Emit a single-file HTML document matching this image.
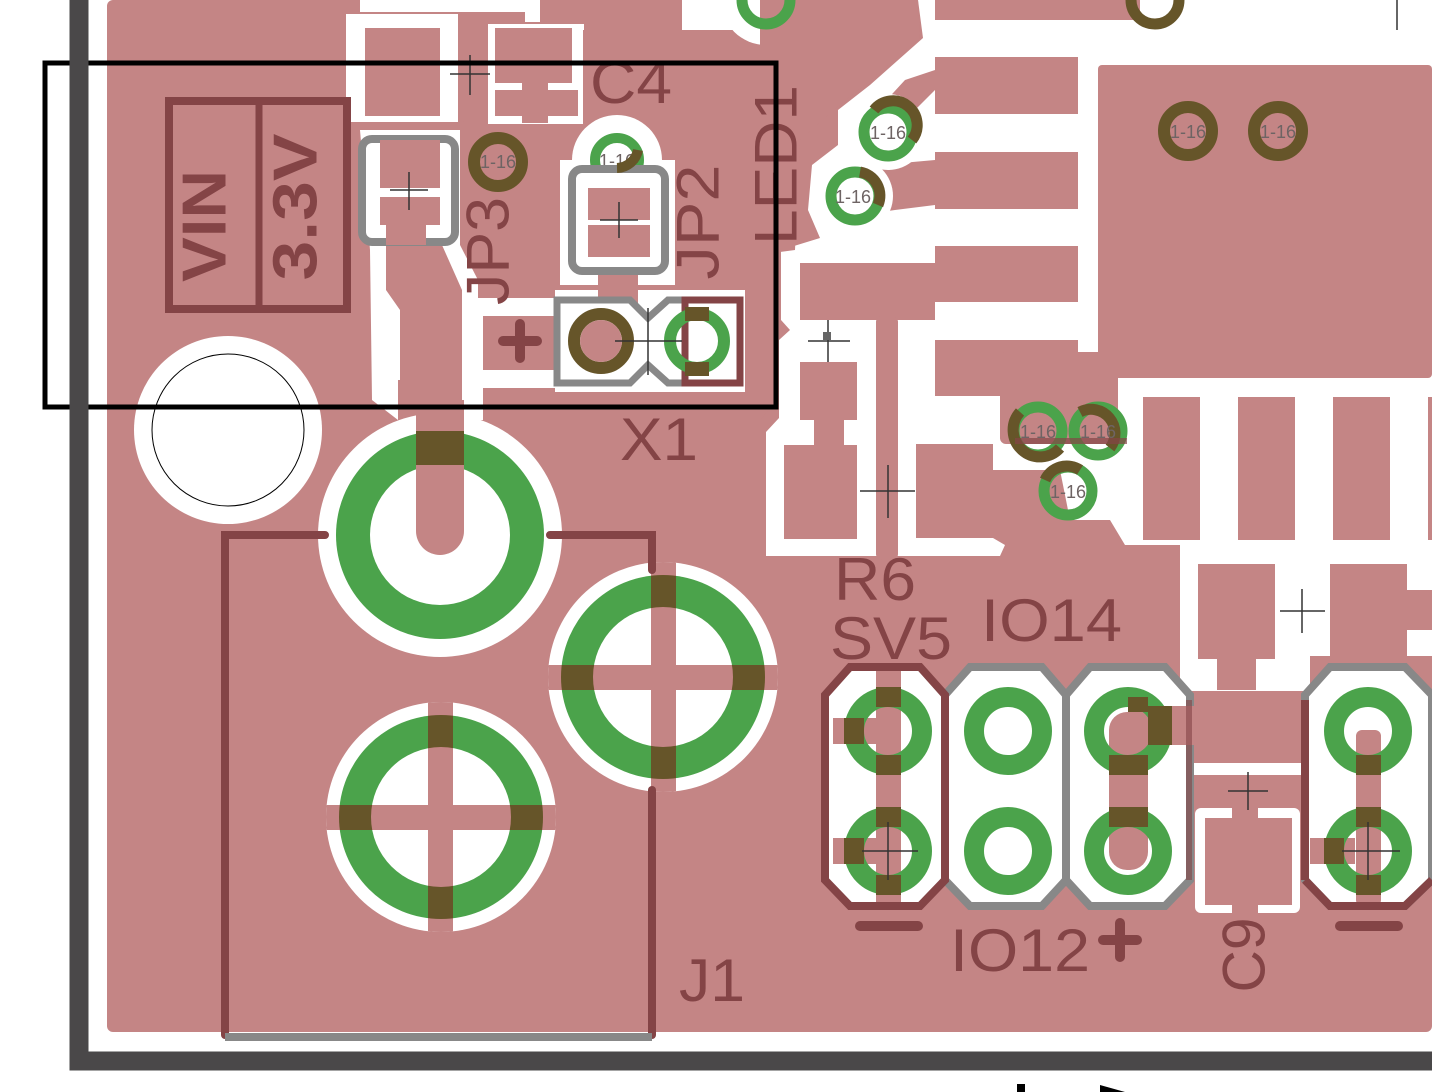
<!DOCTYPE html>
<html><head><meta charset="utf-8"><style>
html,body{margin:0;padding:0;background:#fff;}
svg{display:block;}
text{font-family:"Liberation Sans",sans-serif;}
</style></head><body>
<svg width="1432" height="1092" viewBox="0 0 1432 1092" xmlns="http://www.w3.org/2000/svg">
<defs>
<clipPath id="o2"><circle cx="663" cy="677" r="102"/></clipPath>
<clipPath id="i2"><circle cx="663" cy="677" r="70"/></clipPath>
<clipPath id="c2"><circle cx="663" cy="677" r="115"/></clipPath>
<clipPath id="o3"><circle cx="441" cy="817" r="102"/></clipPath>
<clipPath id="i3"><circle cx="441" cy="817" r="70"/></clipPath>
<clipPath id="c3"><circle cx="441" cy="817" r="115"/></clipPath>
<clipPath id="o1"><circle cx="440" cy="535" r="104"/></clipPath>
</defs>
<rect width="1432" height="1092" fill="#fff"/>
<!-- copper pour -->
<rect x="107" y="0" width="1325" height="1032" rx="6" fill="#c48585"/>

<!-- top-left white clearances -->
<rect x="346" y="14" width="112" height="108" fill="#fff"/>
<rect x="365" y="28" width="75" height="88" fill="#c48585"/>
<rect x="458" y="12" width="30" height="110" rx="6" fill="#c48585"/>
<rect x="488" y="24" width="96" height="100" fill="#fff"/>
<rect x="495" y="28" width="77" height="55" fill="#c48585"/>
<rect x="495" y="90" width="27" height="26" fill="#c48585"/>
<rect x="548" y="90" width="30" height="26" fill="#c48585"/>
<rect x="522" y="83" width="26" height="40" fill="#c48585"/>
<rect x="583" y="30" width="340" height="200" fill="#c48585"/>
<rect x="360" y="0" width="165" height="12" fill="#fff"/>
<rect x="525" y="0" width="15" height="22" fill="#fff"/>
<rect x="682" y="0" width="60" height="30" fill="#fff"/>
<circle cx="766" cy="0" r="45" fill="#fff"/>
<!-- trace & clearances around JP3 trace -->
<path d="M360 130 L460 130 L460 245 L478 280 L478 298 L560 298 L560 316 L483 316 L483 370 L560 370 L560 388 L483 388 L483 420 L462 420 L462 380 L398 380 L398 420 L372 400 L370 250 Z" fill="#fff"/>
<path d="M386 245 L442 245 L462 290 L462 420 L400 420 L400 310 L386 290 Z" fill="#c48585"/>
<circle cx="617" cy="160" r="45" fill="#fff"/>
<rect x="560" y="160" width="115" height="125" fill="#fff"/>
<path d="M555 290 L745 290 L745 392 L555 392 Z" fill="#fff"/>
<rect x="598" y="275" width="40" height="30" fill="#c48585"/>

<!-- mounting hole -->
<circle cx="228" cy="430" r="94" fill="#fff"/>
<circle cx="228" cy="430" r="76" fill="none" stroke="#000" stroke-width="1"/>

<!-- right upper white region -->
<path d="M918 0 L1432 0 L1432 560 L1180 560 L1180 545 L1005 545 L1000 556 L766 556 L766 432 L779 418 L779 340 L790 330 L781 320 L781 250 L820 238 L808 210 L812 165 L838 145 L838 110 L870 85 L923 38 Z" fill="#fff"/>
<!-- copper on left side of that region (LED area) -->
<path d="M760 0 L918 0 L920 38 L868 82 L836 108 L800 140 L795 250 L780 252 L778 400 L760 420 Z" fill="#c48585"/>
<rect x="935" y="0" width="205" height="20" fill="#c48585"/>
<rect x="935" y="57" width="143" height="57" fill="#c48585"/>
<path d="M935 70 L935 90 L910 115 L888 140 L870 118 L905 80 Z" fill="#c48585"/>
<rect x="935" y="152" width="143" height="57" fill="#c48585"/>
<path d="M935 160 L935 205 L895 210 L860 215 L880 165 Z" fill="#c48585"/>
<rect x="935" y="246" width="143" height="56" fill="#c48585"/>
<rect x="800" y="263" width="135" height="57" fill="#c48585"/>
<rect x="935" y="340" width="143" height="56" fill="#c48585"/>
<rect x="1000" y="352" width="118" height="92" rx="6" fill="#c48585"/>
<rect x="1098" y="65" width="334" height="313" rx="4" fill="#c48585"/>
<rect x="1143" y="397" width="57" height="143" fill="#c48585"/>
<rect x="1238" y="397" width="57" height="143" fill="#c48585"/>
<rect x="1333" y="397" width="57" height="143" fill="#c48585"/>
<rect x="1428" y="397" width="4" height="143" fill="#c48585"/>
<rect x="800" y="362" width="57" height="58" fill="#c48585"/>
<rect x="814" y="418" width="30" height="30" fill="#c48585"/>
<rect x="784" y="445" width="73" height="94" fill="#c48585"/>
<rect x="876" y="316" width="22" height="244" rx="6" fill="#c48585"/>
<rect x="916" y="444" width="77" height="94" fill="#c48585"/>
<path d="M993 470 L1060 470 L1070 520 L1110 520 L1125 545 L1005 545 L993 538 Z" fill="#c48585"/>
<!-- C9 area -->
<rect x="1180" y="556" width="130" height="135" fill="#fff"/>
<rect x="1310" y="556" width="122" height="100" fill="#fff"/>
<rect x="1198" y="564" width="77" height="95" fill="#c48585"/>
<rect x="1330" y="564" width="77" height="95" fill="#c48585"/>
<rect x="1407" y="590" width="25" height="40" fill="#c48585"/>
<rect x="1217" y="655" width="39" height="35" fill="#c48585"/>
<rect x="1192" y="763" width="112" height="12" fill="#fff"/>
<rect x="1195" y="808" width="105" height="105" rx="6" fill="#fff"/>
<rect x="1205" y="818" width="87" height="87" fill="#c48585"/>
<rect x="1232" y="808" width="26" height="12" fill="#c48585"/>
<rect x="1232" y="903" width="26" height="12" fill="#c48585"/>

<!-- vias -->
<g>
<circle cx="888" cy="132" r="38" fill="#fff"/><circle cx="888" cy="132" r="24" fill="none" stroke="#4ba34b" stroke-width="11"/>
<path d="M874 110 A24 24 0 0 1 912 140" fill="none" stroke="#665529" stroke-width="11"/>
<circle cx="855" cy="196" r="38" fill="#fff"/><circle cx="855" cy="196" r="24" fill="none" stroke="#4ba34b" stroke-width="11"/>
<path d="M860 172 A24 24 0 0 1 878 205" fill="none" stroke="#665529" stroke-width="11"/>
<circle cx="1188" cy="131" r="24" fill="none" stroke="#665529" stroke-width="12"/>
<circle cx="1278" cy="131" r="24" fill="none" stroke="#665529" stroke-width="12"/>
<circle cx="1038" cy="431" r="24" fill="none" stroke="#4ba34b" stroke-width="11"/>
<circle cx="1098" cy="431" r="24" fill="none" stroke="#4ba34b" stroke-width="11"/>
<circle cx="1068" cy="491" r="24" fill="none" stroke="#4ba34b" stroke-width="11"/>
<path d="M1020 412 A24 24 0 0 0 1060 448" fill="none" stroke="#665529" stroke-width="11"/>
<path d="M1080 412 A24 24 0 0 1 1110 448" fill="none" stroke="#665529" stroke-width="11"/>
<path d="M1045 480 A24 24 0 0 1 1080 470" fill="none" stroke="#665529" stroke-width="11"/>
<rect x="1015" y="438" width="112" height="6" fill="#844446" opacity="0.7"/>
<circle cx="498" cy="162" r="24" fill="none" stroke="#665529" stroke-width="12"/>
<circle cx="617" cy="160" r="22" fill="none" stroke="#4ba34b" stroke-width="10"/>
<circle cx="766" cy="0" r="24" fill="none" stroke="#4ba34b" stroke-width="11"/>
<circle cx="1155" cy="0" r="24" fill="none" stroke="#665529" stroke-width="11"/>
<g font-size="18" fill="#6e6464" text-anchor="middle">
<text x="888" y="139">1-16</text><text x="853" y="203">1-16</text>
<text x="1188" y="138">1-16</text><text x="1278" y="138">1-16</text>
<text x="1038" y="438">1-16</text><text x="1098" y="438">1-16</text><text x="1068" y="498">1-16</text>
<text x="498" y="168">1-16</text><text x="617" y="167">1-16</text>
</g>
</g>

<!-- big pads -->
<circle cx="440" cy="535" r="122" fill="#fff"/>
<circle cx="440" cy="535" r="104" fill="#4ba34b"/>
<circle cx="440" cy="535" r="70" fill="#fff"/>
<rect x="416" y="400" width="48" height="155" rx="24" fill="#c48585"/>
<rect x="416" y="400" width="48" height="31" fill="#c48585"/>
<rect x="416" y="431" width="48" height="34" fill="#665529"/>

<circle cx="663" cy="677" r="115" fill="#fff"/>
<circle cx="663" cy="677" r="102" fill="#4ba34b"/>
<circle cx="663" cy="677" r="70" fill="#fff"/>
<g clip-path="url(#c2)"><rect x="651" y="540" width="25" height="280" fill="#c48585"/><rect x="540" y="665" width="250" height="25" fill="#c48585"/></g>
<g clip-path="url(#o2)"><rect x="651" y="540" width="25" height="280" fill="#665529"/><rect x="540" y="665" width="250" height="25" fill="#665529"/></g>
<g clip-path="url(#i2)"><rect x="651" y="540" width="25" height="280" fill="#c48585"/><rect x="540" y="665" width="250" height="25" fill="#c48585"/></g>

<circle cx="441" cy="817" r="115" fill="#fff"/>
<circle cx="441" cy="817" r="102" fill="#4ba34b"/>
<circle cx="441" cy="817" r="70" fill="#fff"/>
<g clip-path="url(#c3)"><rect x="428" y="690" width="25" height="260" fill="#c48585"/><rect x="320" y="805" width="250" height="25" fill="#c48585"/></g>
<g clip-path="url(#o3)"><rect x="428" y="690" width="25" height="260" fill="#665529"/><rect x="320" y="805" width="250" height="25" fill="#665529"/></g>
<g clip-path="url(#i3)"><rect x="428" y="690" width="25" height="260" fill="#c48585"/><rect x="320" y="805" width="250" height="25" fill="#c48585"/></g>

<!-- J1 silkscreen -->
<g stroke="#844446" stroke-width="8" fill="none" stroke-linecap="round">
<path d="M325 535 L225 535 L225 1035"/>
<path d="M550 535 L652 535 L652 570"/>
<path d="M652 790 L652 1035"/>
</g>
<line x1="225" y1="1037" x2="652" y2="1037" stroke="#888" stroke-width="8"/>

<!-- headers -->
<g>
<path d="M850 667 L920 667 L945 695 L945 880 L920 906 L850 906 L825 880 L825 695 Z" fill="#fff"/>
<path d="M970 667 L1042 667 L1066 695 L1066 880 L1042 906 L970 906 L945 880 L945 695 Z" fill="#fff" stroke="#888" stroke-width="8"/>
<path d="M1090 667 L1165 667 L1190 695 L1190 880 L1165 906 L1090 906 L1066 880 L1066 695 Z" fill="#fff" stroke="#888" stroke-width="8"/>
<path d="M1330 667 L1405 667 L1432 695 L1432 880 L1405 906 L1330 906 L1305 880 L1305 695 Z" fill="#fff" stroke="#888" stroke-width="8"/>
<rect x="876" y="667" width="25" height="239" fill="#c48585"/>
<rect x="833" y="718" width="50" height="26" fill="#c48585"/>
<rect x="833" y="838" width="50" height="26" fill="#c48585"/>
<rect x="1109" y="712" width="39" height="158" rx="18" fill="#c48585"/>
<rect x="1128" y="706" width="70" height="39" fill="#c48585"/>
<rect x="1356" y="730" width="25" height="176" rx="6" fill="#c48585"/>
<rect x="1310" y="838" width="45" height="26" fill="#c48585"/>
<g fill="none" stroke="#4ba34b" stroke-width="20">
<circle cx="888" cy="731" r="34"/><circle cx="888" cy="851" r="34"/>
<circle cx="1008" cy="731" r="34"/><circle cx="1008" cy="851" r="34"/>
<circle cx="1128" cy="731" r="34"/><circle cx="1128" cy="851" r="34"/>
<circle cx="1368" cy="731" r="34"/><circle cx="1368" cy="851" r="34"/>
</g>
<g fill="#665529">
<rect x="876" y="687" width="25" height="20"/><rect x="876" y="755" width="25" height="20"/>
<rect x="876" y="807" width="25" height="20"/><rect x="876" y="875" width="25" height="20"/>
<rect x="844" y="718" width="20" height="26"/><rect x="844" y="838" width="20" height="26"/>
<rect x="1109" y="755" width="39" height="20"/><rect x="1109" y="807" width="39" height="20"/>
<rect x="1148" y="706" width="24" height="39"/><rect x="1128" y="697" width="20" height="15"/>
<rect x="1356" y="755" width="25" height="20"/><rect x="1356" y="807" width="25" height="20"/><rect x="1356" y="875" width="25" height="20"/>
<rect x="1324" y="838" width="20" height="26"/>
</g>
<path d="M850 667 L920 667 L945 695 L945 880 L920 906 L850 906 L825 880 L825 695 Z" fill="none" stroke="#844446" stroke-width="8"/>
<path d="M1305 880 L1330 906 L1405 906 L1432 880" fill="none" stroke="#844446" stroke-width="8"/>
<line x1="1305" y1="700" x2="1305" y2="880" stroke="#844446" stroke-width="8"/>
<line x1="1189" y1="700" x2="1189" y2="880" stroke="#844446" stroke-width="6" opacity="0.6"/>
<line x1="860" y1="926" x2="918" y2="926" stroke="#844446" stroke-width="10" stroke-linecap="round"/>
<line x1="1340" y1="926" x2="1398" y2="926" stroke="#844446" stroke-width="10" stroke-linecap="round"/>
</g>

<!-- JP3 / JP2 / X1 outlines and pads -->
<rect x="362" y="139" width="93" height="103" rx="10" fill="#fff" stroke="#888" stroke-width="8"/>
<rect x="380" y="140" width="60" height="48" fill="#c48585"/>
<rect x="380" y="197" width="60" height="28" fill="#c48585"/>
<rect x="386" y="225" width="40" height="20" fill="#c48585"/>
<rect x="572" y="169" width="93" height="102" rx="10" fill="#fff" stroke="#888" stroke-width="8"/>
<rect x="588" y="188" width="62" height="32" fill="#c48585"/>
<rect x="588" y="225" width="62" height="32" fill="#c48585"/>
<path d="M617 168 A22 22 0 0 0 638 150" fill="none" stroke="#665529" stroke-width="10"/>
<path d="M557 300 L630 300 L648 318 L668 300 L740 300 L740 383 L668 383 L648 365 L630 383 L557 383 Z" fill="#fff" stroke="#888" stroke-width="7"/>
<rect x="685" y="300" width="55" height="83" fill="none" stroke="#844446" stroke-width="7"/>
<circle cx="601" cy="341" r="27" fill="none" stroke="#665529" stroke-width="12"/>
<circle cx="601" cy="341" r="21" fill="#c48585"/>
<circle cx="697" cy="341" r="27" fill="none" stroke="#4ba34b" stroke-width="12"/>
<rect x="685" y="307" width="24" height="14" fill="#665529"/><rect x="685" y="362" width="24" height="14" fill="#665529"/>

<!-- VIN / 3.3V box -->
<rect x="169" y="101" width="178" height="208" fill="none" stroke="#844446" stroke-width="8"/>
<line x1="259" y1="101" x2="259" y2="309" stroke="#844446" stroke-width="7"/>
<g fill="#844446" font-family="Liberation Mono, monospace" font-weight="bold">
<text transform="translate(205 226) rotate(-90)" text-anchor="middle" dominant-baseline="central" font-size="62" textLength="112" lengthAdjust="spacingAndGlyphs">VIN</text>
<text transform="translate(296 207) rotate(-90)" text-anchor="middle" dominant-baseline="central" font-size="62" textLength="147" lengthAdjust="spacingAndGlyphs">3.3V</text>
</g>

<!-- crosshairs -->
<g stroke="#333" stroke-width="1.5">
<path d="M450 74 H490 M470 55 V95"/>
<path d="M390 190 H428 M409 172 V210"/>
<path d="M600 220 H638 M619 202 V238"/>
<path d="M615 341 H682 M648 308 V375"/>
<path d="M808 341 H850 M828 320 V362"/>
<path d="M860 491 H915 M888 465 V518"/>
<path d="M1280 611 H1325 M1302 589 V633"/>
<path d="M1228 791 H1268 M1248 772 V810"/>
<path d="M862 851 H918 M888 822 V880"/>
<path d="M1342 851 H1400 M1368 822 V880"/>
<path d="M1397 0 V30"/>
</g>
<rect x="823" y="332" width="8" height="8" fill="#666"/>

<!-- labels -->
<g fill="#844446">
<text x="590" y="103" font-size="60" textLength="82" lengthAdjust="spacingAndGlyphs">C4</text>
<text transform="translate(488 251) rotate(-90)" text-anchor="middle" dominant-baseline="central" font-size="60" textLength="108" lengthAdjust="spacingAndGlyphs">JP3</text>
<text transform="translate(698 222) rotate(-90)" text-anchor="middle" dominant-baseline="central" font-size="60" textLength="115" lengthAdjust="spacingAndGlyphs">JP2</text>
<text transform="translate(776 165) rotate(-90)" text-anchor="middle" dominant-baseline="central" font-size="60" textLength="160" lengthAdjust="spacingAndGlyphs">LED1</text>
<text x="620" y="460" font-size="60" textLength="78" lengthAdjust="spacingAndGlyphs">X1</text>
<text x="679" y="1001" font-size="60" textLength="66" lengthAdjust="spacingAndGlyphs">J1</text>
<text x="834" y="600" font-size="60" textLength="82" lengthAdjust="spacingAndGlyphs">R6</text>
<text x="830" y="659" font-size="60" textLength="122" lengthAdjust="spacingAndGlyphs">SV5</text>
<text x="981" y="641" font-size="60" textLength="141" lengthAdjust="spacingAndGlyphs">IO14</text>
<text x="950" y="971" font-size="60" textLength="140" lengthAdjust="spacingAndGlyphs">IO12</text>
<text transform="translate(1244 955) rotate(-90)" text-anchor="middle" dominant-baseline="central" font-size="60" textLength="75" lengthAdjust="spacingAndGlyphs">C9</text>
</g>
<g stroke="#844446" stroke-width="10" stroke-linecap="round">
<path d="M503 341 H537 M520 324 V358"/>
<path d="M1103 940 H1137 M1120 923 V957"/>
</g>

<!-- black frame -->
<rect x="45" y="63" width="731" height="344" fill="none" stroke="#000" stroke-width="5"/>

<!-- board outline -->
<path d="M79 0 V1061 H1432" fill="none" stroke="#4a4849" stroke-width="19"/>
<rect x="1017" y="1084" width="8" height="8" fill="#000"/>
<path d="M1100 1085 L1125 1092 L1100 1092 Z" fill="#000"/>
</svg>
</body></html>
